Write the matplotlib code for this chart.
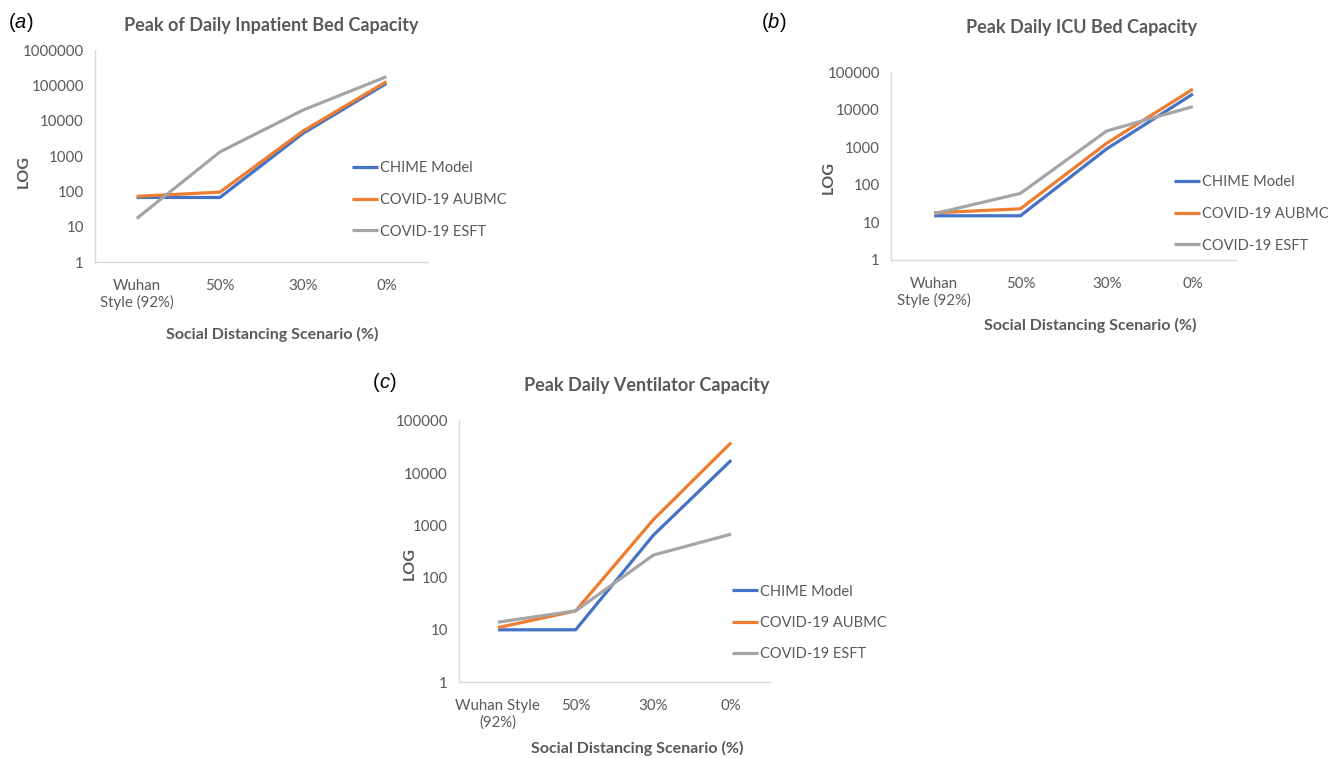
import numpy as np
import matplotlib
matplotlib.use("Agg")
import matplotlib.pyplot as plt
from matplotlib.ticker import FixedLocator, FuncFormatter

plt.rcParams["font.family"] = ["Lato", "DejaVu Sans"]

scenarios_ab = ["Wuhan\nStyle (92%)", "50%", "30%", "0%"]
scenarios_c = ["Wuhan Style\n(92%)", "50%", "30%", "0%"]
series_names = ["CHIME Model", "COVID-19 AUBMC", "COVID-19 ESFT"]

# values
inpatient_chime = [67, 67, 4400, 113000]
inpatient_aubmc = [72, 95, 5100, 127000]
inpatient_esft = [17, 1300, 20000, 175000]

icu_chime = [15, 15, 900, 26000]
icu_aubmc = [18, 23, 1270, 35000]
icu_esft = [17, 59, 2700, 12000]

vent_chime = [10, 10, 650, 17700]
vent_aubmc = [11, 23, 1290, 38500]
vent_esft = [14, 23, 270, 680]

colors = ["#4472C4", "#ED7D31", "#A5A5A5"]
TXT = "#595959"
GRID = "#D9D9D9"

W, H = 1331, 758


def fx(px):
    return px / W


def fy(py):
    return 1 - py / H


def panel(fig, box, cats, data, ymax, legend_xy):
    left, top, right, bottom = box
    ax = fig.add_axes([fx(left), fy(bottom), fx(right - left), (bottom - top) / H])
    x = np.arange(len(cats))
    lines = []
    for vals, c, name in zip(data, colors, series_names):
        (ln,) = ax.plot(x, vals, color=c, lw=2.3, label=name, solid_capstyle="butt")
        lines.append(ln)
    ax.set_yscale("log")
    ax.set_ylim(1, ymax)
    ax.set_xlim(-0.5, len(cats) - 0.5)
    ticks = [10 ** k for k in range(int(round(np.log10(ymax))) + 1)]
    ax.yaxis.set_major_locator(FixedLocator(ticks))
    ax.yaxis.set_minor_locator(FixedLocator([]))
    ax.yaxis.set_major_formatter(FuncFormatter(lambda v, p: f"{int(round(v))}"))
    ax.set_xticks(x)
    ax.set_xticklabels(cats)
    ax.tick_params(axis="both", length=0, labelsize=10.8, colors=TXT)
    ax.tick_params(axis="x", pad=12)
    ax.tick_params(axis="y", pad=8)
    for s in ["top", "right"]:
        ax.spines[s].set_visible(False)
    for s in ["left", "bottom"]:
        ax.spines[s].set_color(GRID)
        ax.spines[s].set_linewidth(1.0)
    fig.legend(handles=lines, loc="center left", bbox_to_anchor=(fx(legend_xy[0]), fy(legend_xy[1])),
               frameon=False, fontsize=10.5, handlelength=1.8, handletextpad=0.15,
               labelspacing=1.2, borderpad=0, borderaxespad=0, labelcolor=TXT)
    return ax


fig = plt.figure(figsize=(W / 100, H / 100), dpi=100)

panel(fig, (95, 50, 428, 262), scenarios_ab, [inpatient_chime, inpatient_aubmc, inpatient_esft],
      1e6, (352, 200))
panel(fig, (891, 72, 1236, 260), scenarios_ab, [icu_chime, icu_aubmc, icu_esft],
      1e5, (1174, 214))
panel(fig, (459, 421, 770, 682), scenarios_c, [vent_chime, vent_aubmc, vent_esft],
      1e5, (732, 623))

title_kw = dict(ha="center", va="center", fontsize=13, fontweight="bold", color=TXT)
fig.text(fx(271), fy(25), "Peak of Daily Inpatient Bed Capacity", **title_kw)
fig.text(fx(1082), fy(28), "Peak Daily ICU Bed Capacity", **title_kw)
fig.text(fx(647), fy(385), "Peak Daily Ventilator Capacity", **title_kw)

xl_kw = dict(ha="center", va="center", fontsize=11.5, fontweight="bold", color=TXT)
fig.text(fx(272), fy(334), "Social Distancing Scenario (%)", **xl_kw)
fig.text(fx(1090), fy(325), "Social Distancing Scenario (%)", **xl_kw)
fig.text(fx(637), fy(748), "Social Distancing Scenario (%)", **xl_kw)

fig.text(fx(24), fy(172), "LOG", rotation=90, **xl_kw)
fig.text(fx(829), fy(178), "LOG", rotation=90, **xl_kw)
fig.text(fx(410), fy(564), "LOG", rotation=90, **xl_kw)

lab_kw = dict(ha="left", va="center", fontsize=14.5, color="black",
              family=["Liberation Sans", "DejaVu Sans"])
fig.text(fx(9), fy(22), "(", **lab_kw)
fig.text(fx(15), fy(22), "a", style="italic", **lab_kw)
fig.text(fx(27), fy(22), ")", **lab_kw)
fig.text(fx(762), fy(22), "(", **lab_kw)
fig.text(fx(768), fy(22), "b", style="italic", **lab_kw)
fig.text(fx(780), fy(22), ")", **lab_kw)
fig.text(fx(373), fy(383), "(", **lab_kw)
fig.text(fx(379), fy(383), "c", style="italic", **lab_kw)
fig.text(fx(390), fy(383), ")", **lab_kw)

fig.savefig("out.png", dpi=100)
